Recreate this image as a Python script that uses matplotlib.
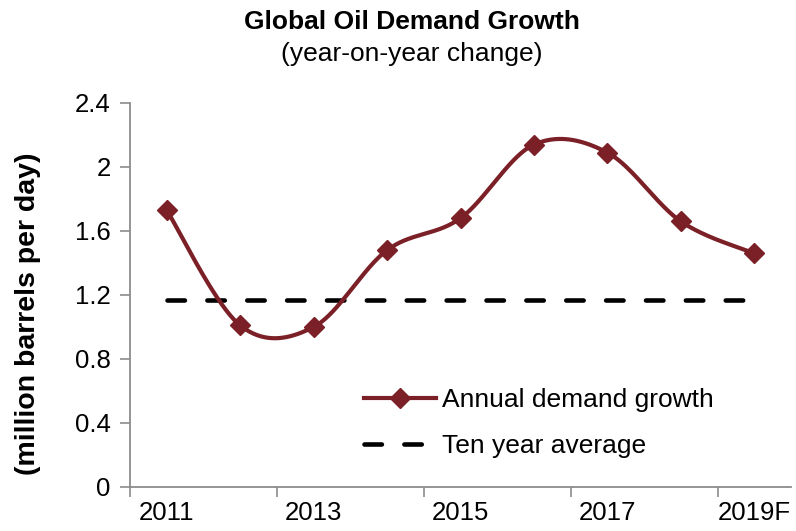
import numpy as np
import matplotlib
matplotlib.use("Agg")
import matplotlib.pyplot as plt
from matplotlib.lines import Line2D

plt.rcParams['font.family'] = ['Liberation Sans', 'DejaVu Sans']

years = ["2011", "2012", "2013", "2014", "2015", "2016", "2017", "2018", "2019F"]
growth = [1.73, 1.01, 1.00, 1.48, 1.68, 2.14, 2.09, 1.66, 1.46]
ten_year_avg = 1.17
tick_labels = ["2011", "2013", "2015", "2017", "2019F"]

LINE_COLOR = "#7B2027"
AXIS_COLOR = "#8C8C8C"

fig = plt.figure(figsize=(7.96, 5.31), dpi=100)
ax = fig.add_axes([130/796, 1-487/531, (791-130)/796, (487-103)/531])

x = np.arange(len(growth), dtype=float)
y = np.array(growth)

# Smooth curve (Catmull-Rom style cubic Hermite through the data points)
def smooth(xv, yv, n=40):
    px, py = [], []
    N = len(xv)
    for i in range(N - 1):
        i0 = max(i - 1, 0)
        i3 = min(i + 2, N - 1)
        mx1 = (xv[i + 1] - xv[i0]) / 2
        my1 = (yv[i + 1] - yv[i0]) / 2
        mx2 = (xv[i3] - xv[i]) / 2
        my2 = (yv[i3] - yv[i]) / 2
        t = np.linspace(0, 1, n)
        h00 = 2*t**3 - 3*t**2 + 1
        h10 = t**3 - 2*t**2 + t
        h01 = -2*t**3 + 3*t**2
        h11 = t**3 - t**2
        px.extend(h00*xv[i] + h10*mx1 + h01*xv[i+1] + h11*mx2)
        py.extend(h00*yv[i] + h10*my1 + h01*yv[i+1] + h11*my2)
    return np.array(px), np.array(py)

DASHES = (3.8, 4.9)

sx, sy = smooth(x, y)
ax.plot(sx, sy, color=LINE_COLOR, lw=3.0, solid_capstyle='round', zorder=3)
ax.plot(x, y, linestyle='none', marker='D', markersize=10.5, color=LINE_COLOR, zorder=4)

ax.plot([x[0], x[-1]], [ten_year_avg, ten_year_avg], color='black', lw=3.3,
        dashes=DASHES, dash_capstyle='round', zorder=2)

ax.set_xlim(-0.5, len(growth) - 0.5)
ax.set_ylim(0, 2.4)
ax.set_yticks(np.arange(0, 2.41, 0.4))
ax.set_yticklabels(["0", "0.4", "0.8", "1.2", "1.6", "2", "2.4"])

ax.set_xticks([-0.5, 1.5, 3.5, 5.5, 7.5])
ax.set_xticklabels([])
ax.set_xticks([0, 2, 4, 6, 8], minor=True)
ax.set_xticklabels(tick_labels, minor=True)
ax.tick_params(axis='x', which='minor', length=0, pad=10, labelsize=18.5)
ax.tick_params(axis='x', which='major', length=7, width=1.2, color=AXIS_COLOR, direction='out')
ax.tick_params(axis='y', length=7, width=1.2, color=AXIS_COLOR, direction='out', labelsize=18.5, pad=7)

for s in ['top', 'right']:
    ax.spines[s].set_visible(False)
for s in ['left', 'bottom']:
    ax.spines[s].set_color(AXIS_COLOR)
    ax.spines[s].set_linewidth(1.3)

ax.set_ylabel("(million barrels per day)", fontsize=20.5, fontweight='bold')
ax.yaxis.set_label_coords(41/796, 1-314/531, transform=fig.transFigure)

fig.text(412/796, 1-22/531, "Global Oil Demand Growth", ha='center', va='center',
         fontsize=19, fontweight='bold')
fig.text(412/796, 1-54/531, "(year-on-year change)", ha='center', va='center', fontsize=19)

handles = [
    Line2D([], [], color=LINE_COLOR, lw=3.0, marker='D', markersize=10.5),
    Line2D([], [], color='black', lw=3.3, dashes=DASHES, dash_capstyle='round'),
]
leg = ax.legend(handles, ["Annual demand growth", "Ten year average"],
                loc='center left', bbox_to_anchor=(364/796, 1-423/531),
                bbox_transform=fig.transFigure, frameon=False, fontsize=19,
                handlelength=2.72, handletextpad=0.25, labelspacing=0.85,
                borderaxespad=0, borderpad=0)

fig.savefig("out.png", dpi=100)
